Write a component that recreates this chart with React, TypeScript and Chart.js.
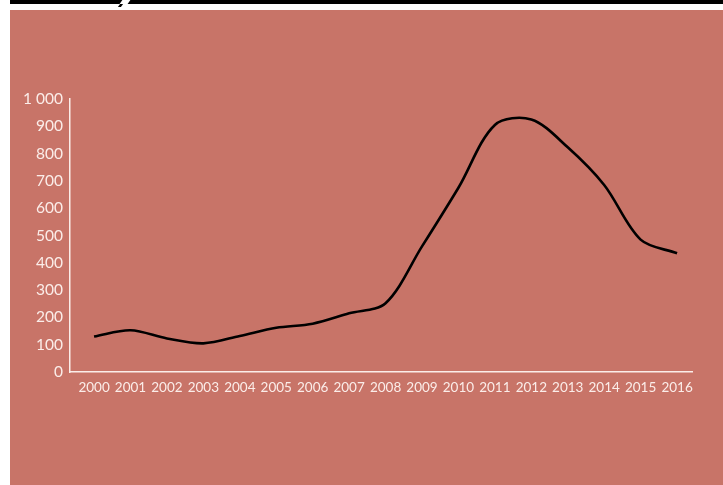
import React, { useEffect, useRef } from "react";
import { Chart, registerables } from "chart.js";

Chart.register(...registerables);

const years = [2000, 2001, 2002, 2003, 2004, 2005, 2006, 2007, 2008, 2009, 2010, 2011, 2012, 2013, 2014, 2015, 2016];
const values = [130, 153, 123, 105, 132, 162, 177, 215, 252, 460, 675, 905, 925, 823, 685, 485, 435];
const yTicks = [0, 100, 200, 300, 400, 500, 600, 700, 800, 900, 1000];

const BG = "#C87468";
const TEXT = "#FBEDE9";

export default function App() {
  const ref = useRef<HTMLCanvasElement | null>(null);

  useEffect(() => {
    if (!ref.current) return;
    const chart = new Chart(ref.current, {
      type: "line",
      data: {
        datasets: [
          {
            data: years.map((y, i) => ({ x: y, y: values[i] })),
            borderColor: "#000000",
            borderWidth: 2.6,
            pointRadius: 0,
            tension: 0.32,
            fill: false,
          },
        ],
      },
      options: {
        responsive: false,
        animation: false,
        layout: { padding: { top: 89, right: 31, bottom: 83, left: 0 } },
        plugins: { legend: { display: false }, tooltip: { enabled: false } },
        scales: {
          x: {
            type: "linear",
            min: 1999.34,
            max: 2016.41,
            afterBuildTicks: (scale: any) => {
              scale.ticks = years.map((v) => ({ value: v }));
            },
            afterFit: (scale: any) => {
              scale.height = 30;
            },
            grid: { display: false, drawTicks: false },
            border: { display: true, color: TEXT, width: 1.5 },
            ticks: {
              color: TEXT,
              padding: 8,
              autoSkip: false,
              maxRotation: 0,
              font: { family: "Lato", size: 13.5 },
              callback: (v: any) => String(v),
            },
          },
          y: {
            min: 0,
            max: 1000,
            afterBuildTicks: (scale: any) => {
              scale.ticks = yTicks.map((v) => ({ value: v }));
            },
            afterFit: (scale: any) => {
              scale.width = 60;
            },
            grid: { display: false, drawTicks: false },
            border: { display: true, color: TEXT, width: 1.5 },
            ticks: {
              color: TEXT,
              padding: 7,
              font: { family: "Lato", size: 15.5 },
              callback: (v: any) => String(v).replace(/\B(?=(\d{3})+(?!\d))/g, " "),
            },
          },
        },
      },
    });
    return () => chart.destroy();
  }, []);

  return (
    <div>
      <div style={{ position: "fixed", left: 10, top: 0, width: 713, height: 4, background: "#000" }} />
      <div
        style={{
          position: "fixed",
          left: 121,
          top: 0,
          width: 8,
          height: 4,
          background: "#fff",
          transform: "skewX(-35deg)",
        }}
      />
      <div
        style={{
          position: "fixed",
          left: 119,
          top: 4,
          width: 3,
          height: 3,
          background: "#000",
          transform: "skewX(-35deg)",
        }}
      />
      <div style={{ position: "fixed", left: 10, top: 10, width: 713, height: 475, background: BG }}>
        <canvas ref={ref} width={713} height={475} style={{ display: "block" }} />
      </div>
    </div>
  );
}
